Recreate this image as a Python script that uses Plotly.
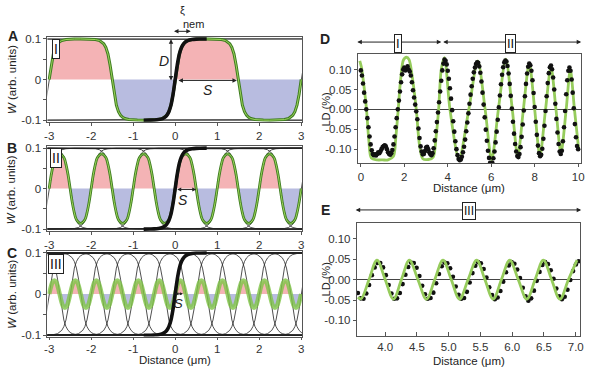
import plotly.graph_objects as go

W, H = 600, 375


def px(x):
    return x / W


def py(y):
    return 1 - y / H


# ---------------- data: panels A-C (nematic kink model) ----------------
# one kink (director rotation) profile
KINK_OFF = [-0.75, -0.6, -0.5, -0.4, -0.3, -0.25, -0.2, -0.15, -0.1, -0.05, 0.0,
            0.05, 0.1, 0.15, 0.2, 0.25, 0.3, 0.4, 0.5, 0.6, 0.75]
KINK_W = [-0.100, -0.0998, -0.0995, -0.0985, -0.096, -0.093, -0.088, -0.079, -0.063, -0.036, 0.0,
          0.036, 0.063, 0.079, 0.088, 0.093, 0.096, 0.0985, 0.0995, 0.0998, 0.100]
THICK_KINK_CENTER = 0.0

# kink centres (alternating rising / falling, first one rising)
KINK_CENTERS_A = [-3.0, -1.5, 0.0, 1.5, 3.0]
KINK_CENTERS_B = [-3.0, -2.5, -2.0, -1.5, -1.0, -0.5, 0.0, 0.5, 1.0, 1.5, 2.0, 2.5, 3.0]
KINK_CENTERS_C = [-3.0, -2.75, -2.5, -2.25, -2.0, -1.75, -1.5, -1.25, -1.0, -0.75, -0.5, -0.25,
                  0.0, 0.25, 0.5, 0.75, 1.0, 1.25, 1.5, 1.75, 2.0, 2.25, 2.5, 2.75, 3.0]

# half-period lobes of W in panels B and C
BUMP_B_OFF = [0.0, 0.05, 0.1, 0.15, 0.25, 0.35, 0.4, 0.45, 0.5]
BUMP_B_W = [0.0, 0.034, 0.060, 0.077, 0.086, 0.077, 0.060, 0.034, 0.0]
BUMP_C_OFF = [0.0, 0.04, 0.08, 0.125, 0.17, 0.21, 0.25]
BUMP_C_W = [0.0, 0.017, 0.029, 0.033, 0.029, 0.017, 0.0]

# ---------------- data: panel D ----------------
LD_D_X0, LD_D_STEP = 0.0, 0.05
LD_D = [0.098, 0.085, 0.065, 0.042, 0.020, 0.000, -0.022, -0.045, -0.068, -0.088,
        -0.103, -0.112, -0.115, -0.113, -0.116, -0.112, -0.108, -0.110, -0.106, -0.100,
        -0.095, -0.092, -0.090, -0.093, -0.100, -0.108, -0.112, -0.114, -0.110, -0.102,
        -0.088, -0.068, -0.045, -0.022, 0.000, 0.022, 0.045, 0.068, 0.088, 0.100,
        0.105, 0.098, 0.103, 0.108, 0.100, 0.095, 0.085, 0.068, 0.048, 0.030,
        0.012, -0.005, -0.025, -0.048, -0.072, -0.093, -0.106, -0.113, -0.112, -0.105,
        -0.096, -0.094, -0.100, -0.108, -0.113, -0.115, -0.110, -0.098, -0.078, -0.055,
        -0.032, -0.008, 0.018, 0.045, 0.072, 0.098, 0.115, 0.125,
        0.122, 0.113, 0.097, 0.077, 0.053, 0.027, -0.002, -0.030, -0.056, -0.080,
        -0.100, -0.115, -0.125, -0.128,
        -0.126, -0.119, -0.108, -0.094, -0.076, -0.055, -0.033, -0.010, 0.014, 0.037,
        0.058, 0.077, 0.093, 0.105, 0.114, 0.118,
        0.117, 0.108, 0.092, 0.070, 0.042, 0.012, -0.020, -0.051, -0.079, -0.104,
        -0.122, -0.134, -0.138,
        -0.134, -0.123, -0.106, -0.083, -0.056, -0.026, 0.005, 0.035, 0.063, 0.087,
        0.106, 0.118, 0.123,
        0.120, 0.109, 0.090, 0.064, 0.034, 0.002, -0.031, -0.061, -0.087, -0.106,
        -0.117, -0.120,
        -0.112, -0.095, -0.069, -0.038, -0.003, 0.033, 0.064, 0.090, 0.107, 0.115,
        0.111, 0.097, 0.073, 0.041, 0.006, -0.031, -0.064, -0.091, -0.110, -0.118,
        -0.114, -0.099, -0.074, -0.041, -0.004, 0.033, 0.066, 0.091, 0.106, 0.110,
        0.101, 0.080, 0.050, 0.014, -0.024, -0.058, -0.087, -0.106, -0.112,
        -0.104, -0.080, -0.045, -0.004, 0.038, 0.073, 0.097, 0.105,
        0.097, 0.075, 0.042, 0.003, -0.037, -0.070, -0.092, -0.100]
FIT_D_X = [-0.05, 0.03, 0.14, 0.26, 0.37, 0.48, 0.75, 1.0, 1.25, 1.5, 1.61, 1.72, 1.83,
           1.96, 2.1, 2.22, 2.37, 2.55, 2.7, 2.85, 3.1, 3.33, 3.46, 3.58,
           3.7, 3.85, 4.1, 4.52, 4.97, 5.38, 5.72, 6.02, 6.33, 6.67, 6.97, 7.22, 7.48,
           7.75, 8.0, 8.24, 8.5, 8.75, 8.98, 9.21, 9.45, 9.64, 9.83, 10.02]
FIT_D_Y = [0.122, 0.105, 0.06, 0.0, -0.08, -0.122, -0.127, -0.127, -0.127, -0.118, -0.07, 0.0,
           0.075, 0.124, 0.131, 0.125, 0.08, 0.0, -0.09, -0.124, -0.126, -0.12, -0.07, 0.0,
           0.1, 0.13, 0.0, -0.125, 0.0, 0.122, 0.0, -0.127,
           0.0, 0.126, 0.0, -0.118, 0.0, 0.116, 0.0, -0.118, 0.0, 0.107, 0.0, -0.11, 0.0,
           0.10, 0.0, -0.098]

# ---------------- data: panel E ----------------
LD_E_X0, LD_E_STEP = 3.57, 0.044
LD_E = [-0.033, -0.046, -0.047, -0.034, -0.013, 0.011, 0.030, 0.041, 0.041, 0.030,
        0.011, -0.013, -0.034, -0.047, -0.046, -0.033, -0.011, 0.012, 0.031, 0.042,
        0.041, 0.029, 0.009, -0.015, -0.036, -0.047, -0.045, -0.032, -0.009, 0.014,
        0.033, 0.042, 0.040, 0.028, 0.007, -0.017, -0.037, -0.047, -0.045, -0.030,
        -0.007, 0.016, 0.034, 0.043, 0.040, 0.026, 0.005, -0.019, -0.038, -0.048,
        -0.044, -0.028, -0.005, 0.018, 0.035, 0.043, 0.039, 0.025, 0.004, -0.020,
        -0.041, -0.052, -0.046, -0.027, -0.003, 0.019, 0.036, 0.043, 0.038, 0.023,
        0.002, -0.022, -0.041, -0.048, -0.042, -0.025, -0.001, 0.021, 0.037, 0.045]
FIT_E_X = [3.57, 3.62, 3.745, 3.87, 4.0, 4.13, 4.255, 4.38, 4.515, 4.65, 4.78, 4.91, 5.04,
           5.17, 5.305, 5.44, 5.57, 5.70, 5.83, 5.96, 6.095, 6.23, 6.36, 6.49, 6.62, 6.75,
           6.885, 7.02]
FIT_E_Y = [-0.043, -0.047, 0.0, 0.048, 0.0, -0.048, 0.0, 0.048, 0.0, -0.048, 0.0, 0.048, 0.0,
           -0.048, 0.0, 0.048, 0.0, -0.048, 0.0, 0.048, 0.0, -0.048, 0.0, 0.048, 0.0, -0.048,
           0.0, 0.048]

# ---------------- styling ----------------
FONT = "Liberation Sans, Arial, sans-serif"
PINK = "#f4b3b5"
BLUE = "#b8bce0"
DKGREEN = "#3f7d22"
LTGREEN = "#9bd35a"
FITGREEN = "#96cc5c"
FRAME = "#555555"

fig = go.Figure()
AX = {"A": ("x", "y"), "B": ("x2", "y2"), "C": ("x3", "y3"), "D": ("x4", "y4"), "E": ("x5", "y5")}


def add(panel, **kw):
    xa, ya = AX[panel]
    fig.add_trace(go.Scatter(xaxis=xa, yaxis=ya, showlegend=False, hoverinfo="skip", **kw))


def thin_kinks(panel, centers):
    xs, ys = [], []
    for i, c in enumerate(centers):
        d = 1 if i % 2 == 0 else -1
        xs += [-3.4] + [c + o for o in KINK_OFF] + [3.4, None]
        ys += [-0.1 * d] + [d * w for w in KINK_W] + [0.1 * d, None]
    add(panel, x=xs, y=ys, mode="lines", line=dict(color="#222222", width=0.8))


def lobes(panel, centers, off, vals, spline=True):
    allx, ally = [], []
    for i in range(len(centers) - 1):
        s = 1 if i % 2 == 0 else -1
        c = centers[i]
        xs = [c + o for o in off]
        ys = [s * v for v in vals]
        add(panel, x=xs, y=ys, mode="lines", fill="tozeroy",
            fillcolor=PINK if s > 0 else BLUE, line=dict(width=0, shape="spline" if spline else "linear"))
        if allx:
            xs, ys = xs[1:], ys[1:]
        allx += xs
        ally += ys
    return allx, ally


def thick_kink(panel):
    add(panel, x=[THICK_KINK_CENTER + o for o in KINK_OFF], y=KINK_W, mode="lines",
        line=dict(color="#111111", width=3.6, shape="spline"))


# ---- panel A: lobes built from consecutive kinks
A_OFF = KINK_OFF[10:] + [0.75 + 0.75 + o for o in KINK_OFF[1:11]]
A_VAL = [abs(w) for w in KINK_W[10:]] + [abs(w) for w in KINK_W[1:11]]
ax_, ay_ = lobes("A", KINK_CENTERS_A, A_OFF, A_VAL, spline=False)
thin_kinks("A", KINK_CENTERS_A)
add("A", x=ax_, y=ay_, mode="lines", line=dict(color=DKGREEN, width=3.0))
add("A", x=ax_, y=ay_, mode="lines", line=dict(color=LTGREEN, width=1.0))
thick_kink("A")

# ---- panel B
bx, by = lobes("B", KINK_CENTERS_B, BUMP_B_OFF, BUMP_B_W)
thin_kinks("B", KINK_CENTERS_B)
add("B", x=bx, y=by, mode="lines", line=dict(color=DKGREEN, width=2.8, shape="spline"))
add("B", x=bx, y=by, mode="lines", line=dict(color=LTGREEN, width=1.0, shape="spline"))
thick_kink("B")

# ---- panel C
cx, cy = lobes("C", KINK_CENTERS_C, BUMP_C_OFF, BUMP_C_W)
thin_kinks("C", KINK_CENTERS_C)
add("C", x=cx, y=cy, mode="lines", line=dict(color="rgba(128,196,70,0.8)", width=4.5, shape="spline"))
thick_kink("C")

# ---- panel D
dx = [round(LD_D_X0 + LD_D_STEP * i, 3) for i in range(len(LD_D))]
add("D", x=FIT_D_X, y=FIT_D_Y, mode="lines", line=dict(color=FITGREEN, width=2.8, shape="spline", smoothing=0.8))
add("D", x=dx, y=LD_D, mode="markers", marker=dict(color="#111111", size=4.6))

# ---- panel E
ex = [round(LD_E_X0 + LD_E_STEP * i, 3) for i in range(len(LD_E))]
add("E", x=ex, y=LD_E, mode="markers", marker=dict(color="#111111", size=4.6))
add("E", x=FIT_E_X, y=FIT_E_Y, mode="lines", line=dict(color=FITGREEN, width=2.8, shape="spline", smoothing=1))

# ---------------- axes ----------------
base = dict(showgrid=False, showline=True, mirror=True, linecolor=FRAME, linewidth=1,
            ticks="outside", ticklen=3, tickcolor=FRAME, tickwidth=1,
            tickfont=dict(family=FONT, size=11.5, color="#333333"), zeroline=False, fixedrange=True)

wx_vals = [-3, -2, -1, 0, 1, 2, 3]
wx_text = ["-3", "-2", "-1", "0", "1", "2", "3"]
wy_vals = [-0.1, -0.05, 0, 0.05, 0.1]
wy_text = ["-0.1", "", "0", "", "0.1"]

panels_w = {
    "": ((45, 303), (33.3, 120.7), (-0.104, 0.106)),
    "2": ((45, 303), (145, 232.7), (-0.105, 0.1065)),
    "3": ((45, 303), (253.3, 340.7), (-0.103, 0.104)),
}
lay = {}
for suf, (xr, yr, yrange) in panels_w.items():
    lay["xaxis" + suf] = dict(base, domain=[px(xr[0]), px(xr[1])], range=[-3.04, 3.03],
                              tickvals=wx_vals, ticktext=wx_text, anchor="y" + suf)
    lay["yaxis" + suf] = dict(base, domain=[py(yr[1]), py(yr[0])], range=list(yrange),
                              tickvals=wy_vals, ticktext=wy_text, anchor="x" + suf)
lay["xaxis3"]["ticklen"] = 2

ld_vals = [-0.10, -0.05, 0.0, 0.05, 0.10]
ld_text = ["-0.10", "-0.05", "0.00", "0.05", "0.10"]
lay["xaxis4"] = dict(base, domain=[px(359), px(585)], range=[-0.14, 10.14],
                     tickvals=[0, 2, 4, 6, 8, 10], ticktext=["0", "2", "4", "6", "8", "10"], anchor="y4")
lay["yaxis4"] = dict(base, domain=[py(163), py(51.7)], range=[-0.135, 0.138], tickvals=ld_vals,
                     ticktext=ld_text, anchor="x4", zeroline=True, zerolinecolor="#444444", zerolinewidth=1)
lay["xaxis5"] = dict(base, domain=[px(358), px(584)], range=[3.553, 7.07], ticks="inside", ticklen=4,
                     tickvals=[4.0, 4.5, 5.0, 5.5, 6.0, 6.5, 7.0],
                     ticktext=["4.0", "4.5", "5.0", "5.5", "6.0", "6.5", "7.0"], anchor="y5")
lay["yaxis5"] = dict(base, domain=[py(340), py(224)], range=[-0.138, 0.14], tickvals=ld_vals,
                     ticktext=ld_text, anchor="x5", zeroline=True, zerolinecolor="#444444", zerolinewidth=1)

# ---------------- annotations ----------------
ann = []


def text(x, y, t, size=11.5, angle=0, bold=False, italic=False, color="#222222", **kw):
    if bold:
        t = "<b>" + t + "</b>"
    if italic:
        t = "<i>" + t + "</i>"
    ann.append(dict(x=px(x), y=py(y), xref="paper", yref="paper", text=t, showarrow=False,
                    xanchor="center", yanchor="middle",
                    textangle=angle, font=dict(family=FONT, size=size, color=color), **kw))


def boxed(x, y, t, size=14):
    ann.append(dict(x=px(x), y=py(y), xref="paper", yref="paper", text=t, showarrow=False,
                    xanchor="center", yanchor="middle",
                    font=dict(family=FONT, size=size, color="#111111"), bgcolor="white",
                    bordercolor="#222222", borderwidth=1, borderpad=1))


def darrow(x1, y1, x2, y2, size=0.9):
    ann.append(dict(x=px(x2), y=py(y2), xref="paper", yref="paper", ax=x1 - x2, ay=y1 - y2,
                    axref="pixel", ayref="pixel", text="", showarrow=True, arrowhead=2,
                    arrowside="end+start", arrowsize=size, arrowwidth=1, arrowcolor="#222222",
                    standoff=0, startstandoff=0))


# panel letters
text(10, 33, "A", size=14, bold=True)
text(9, 148, "B", size=14, bold=True)
text(9, 255, "C", size=14, bold=True)
text(326, 36, "D", size=14, bold=True)
text(326, 211, "E", size=14, bold=True)

# y titles
for yc in (77, 190, 297):
    text(9, yc, "<i>W</i> (arb. units)", angle=-90)
text(327, 108, "LD (%)", angle=-90, size=11)
text(327, 282, "LD (%)", angle=-90, size=11)

# x titles
text(174, 365, "Distance (μm)")
text(472, 189, "Distance (μm)")
text(471, 366, "Distance (μm)")

# regime boxes in A-C
boxed(54, 46, "I")
boxed(54, 158, "II")
boxed(54, 266, "III")

# A annotations
darrow(170, 35.7, 170, 78.3)
text(163, 58, "D", size=14, italic=True)
darrow(176.7, 78.3, 236.7, 78.3)
text(207, 88, "S", size=14, italic=True)
darrow(171.7, 28, 190, 28)
text(182, 6, "ξ", size=11)
text(193, 21, "nem", size=11)

# B annotations
darrow(175, 190, 195.5, 190, size=0.8)
text(182, 201, "S", size=14, italic=True)

# C annotations
darrow(173, 297, 182, 297, size=0.6)
text(178, 307, "S", size=13, italic=True)

# D/E regime arrows
darrow(358, 39, 443.5, 39)
darrow(445.5, 39, 585, 39)
boxed(400, 40, "I", size=13)
boxed(513.5, 40, "II", size=13)
darrow(358, 211, 585, 211)
boxed(471.5, 212, "III", size=12)

fig.update_layout(width=W, height=H, autosize=False, margin=dict(l=0, r=0, t=0, b=0),
                  paper_bgcolor="white", plot_bgcolor="white", annotations=ann, **lay)

fig.write_html("out.html", config={"displayModeBar": False},
               post_script="document.body.style.margin='0px';")
